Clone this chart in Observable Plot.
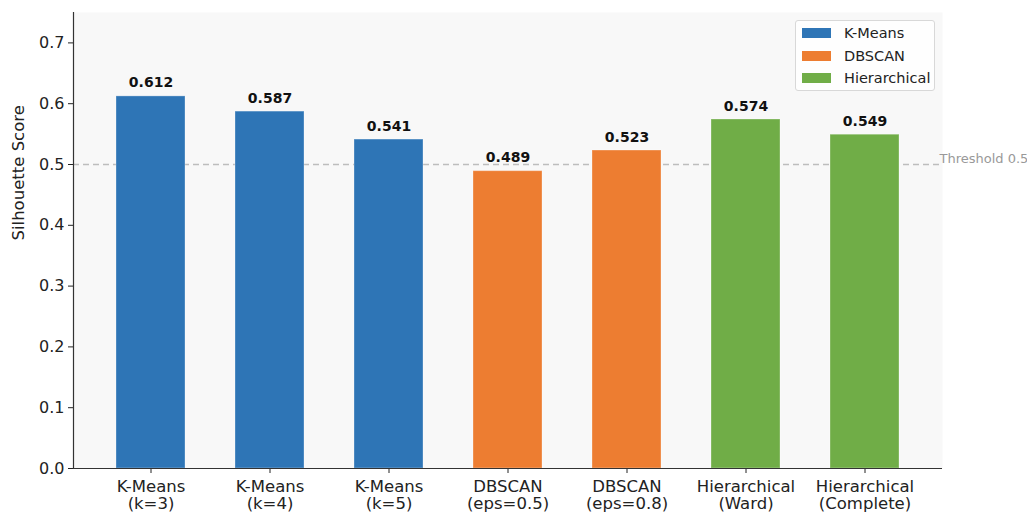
<!DOCTYPE html>
<html>
<head>
<meta charset="utf-8">
<script src="https://cdn.jsdelivr.net/npm/d3@7"></script>
<script src="https://cdn.jsdelivr.net/npm/@observablehq/plot@0.6"></script>
<style>
  html, body { margin: 0; padding: 0; background: #fff; }
  #wrap { position: relative; width: 1027px; height: 515px; font-family: "DejaVu Sans", sans-serif; }
  #legend { position: absolute; left: 795px; top: 20px; width: 140px; height: 71px; border: 1px solid #d8d8d8; border-radius: 3px; background: rgba(255,255,255,0.85); box-sizing: border-box; }
  .row { position: absolute; left: 6px; height: 20px; display: flex; align-items: center; font-size: 14.5px; color: #222; }
  .sw { width: 29px; height: 10px; margin-right: 13px; }
</style>
</head>
<body>
<div id="wrap"><div id="legend"></div></div>
<script>
const categories = ["K-Means (k=3)", "K-Means (k=4)", "K-Means (k=5)", "DBSCAN (eps=0.5)", "DBSCAN (eps=0.8)", "Hierarchical (Ward)", "Hierarchical (Complete)"];
const tickLabels = ["K-Means\n(k=3)", "K-Means\n(k=4)", "K-Means\n(k=5)", "DBSCAN\n(eps=0.5)", "DBSCAN\n(eps=0.8)", "Hierarchical\n(Ward)", "Hierarchical\n(Complete)"];
const methods = ["K-Means", "K-Means", "K-Means", "DBSCAN", "DBSCAN", "Hierarchical", "Hierarchical"];
const scores = [0.612, 0.587, 0.541, 0.489, 0.523, 0.574, 0.549];
const legendMethods = ["K-Means", "DBSCAN", "Hierarchical"];
const legendColors = ["#2e75b6", "#ed7d31", "#70ad47"];
const yTicks = [0, 0.1, 0.2, 0.3, 0.4, 0.5, 0.6, 0.7];
const threshold = 0.5;
const thresholdLabel = "Threshold 0.5";
const yLabel = "Silhouette Score";

const data = categories.map((c, i) => ({category: c, method: methods[i], score: scores[i]}));
const tickMap = new Map(categories.map((c, i) => [c, tickLabels[i]]));

const chart = Plot.plot({
  width: 1027,
  height: 515,
  marginLeft: 73,
  marginRight: 85,
  marginTop: 12,
  marginBottom: 47,
  style: {fontFamily: "DejaVu Sans, sans-serif", background: "transparent", overflow: "visible"},
  x: {domain: categories, paddingInner: 0.417, paddingOuter: 0.333, label: null},
  y: {domain: [0, 0.75], label: null},
  color: {domain: legendMethods, range: legendColors},
  marks: [
    Plot.frame({fill: "#f8f8f8", stroke: null}),
    Plot.ruleY([threshold], {stroke: "#bdbdbd", strokeWidth: 1.3, strokeDasharray: "6,4"}),
    Plot.barY(data, {x: "category", y: "score", fill: "method", stroke: "#ffffff", strokeOpacity: 0.3, strokeWidth: 1}),
    Plot.text(data, {x: "category", y: "score", text: d => d.score.toFixed(3), dy: -9, lineAnchor: "bottom", fontWeight: "bold", fontSize: 14, fill: "#111"}),
    Plot.text([threshold], {y: d => d, frameAnchor: "right", textAnchor: "start", dx: -3, dy: -6, text: () => thresholdLabel, fill: "#999", fontSize: 13}),
    Plot.axisY({ticks: yTicks, tickFormat: d => d.toFixed(1), tickSize: 5, tickPadding: 4, fontSize: 16, color: "#222", label: null}),
    Plot.axisX({tickFormat: d => tickMap.get(d), tickSize: 5, tickPadding: 6, fontSize: 16.5, lineHeight: 1.05, color: "#222", label: null}),
    Plot.frame({anchor: "left", stroke: "#333", strokeWidth: 1.2}),
    Plot.ruleY([0], {stroke: "#333", strokeWidth: 1.2}),
    Plot.text([yLabel], {frameAnchor: "left", rotate: -90, dx: -55, text: d => d, fontSize: 16.5, fill: "#222"})
  ]
});
document.getElementById("wrap").prepend(chart);

const legend = document.getElementById("legend");
legendMethods.forEach((m, i) => {
  const row = document.createElement("div");
  row.className = "row";
  row.style.top = (2 + i * 22.5) + "px";
  const sw = document.createElement("div");
  sw.className = "sw";
  sw.style.background = legendColors[i];
  const lab = document.createElement("span");
  lab.textContent = m;
  row.appendChild(sw);
  row.appendChild(lab);
  legend.appendChild(row);
});
</script>
</body>
</html>
